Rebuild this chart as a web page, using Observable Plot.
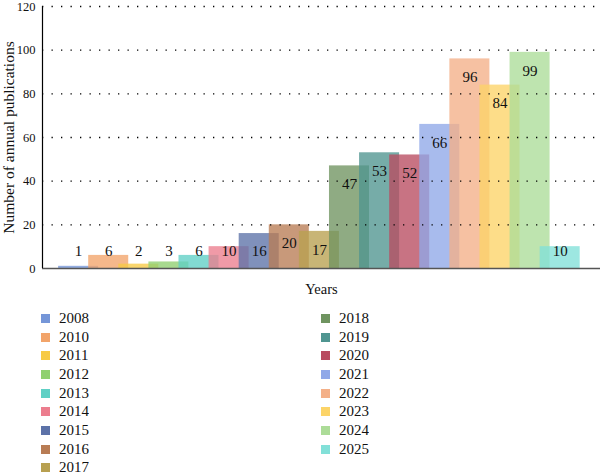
<!DOCTYPE html>
<html>
<head>
<meta charset="utf-8">
<script src="https://cdn.jsdelivr.net/npm/d3@7"></script>
<script src="https://cdn.jsdelivr.net/npm/@observablehq/plot@0.6"></script>
<style>
  body { margin: 0; background: #fff; font-family: "Liberation Serif", serif; }
  #chart { width: 600px; }
  #chart svg, #chart svg text { font-family: "Liberation Serif", serif !important; }
  #chart g[aria-label="y-axis label"] text { font-size: 15.5px; }
  .lg-swatches {
    font-family: "Liberation Serif", serif;
    font-size: 15px;
    color: #111;
    margin: 9px 0 0 41px;
    width: 559px;
    column-gap: 1px;
  }
  .lg-swatch { height: 18.7px; padding-bottom: 0; }
  .lg-swatch > svg { margin-right: 9px; }
</style>
</head>
<body>
<div id="chart"></div>
<script>
// Publications per year
const years = ["2008", "2010", "2011", "2012", "2013", "2014", "2015", "2016", "2017",
               "2018", "2019", "2020", "2021", "2022", "2023", "2024", "2025"];
const counts = [1, 6, 2, 3, 6, 10, 16, 20, 17, 47, 53, 52, 66, 96, 84, 99, 10];
const colors = ["#7596d8", "#f2a46a", "#f7ca45", "#90d070", "#5fd0c5", "#ec7d8e",
                "#5c72a8", "#b87c54", "#b8a050", "#6f9460", "#4f9590", "#b84c60",
                "#90a8e8", "#f4b088", "#fcd468", "#acdc98", "#82e0d8"];
const yTicks = [0, 20, 40, 60, 80, 100, 120];
const gridLines = [20, 40, 60, 80, 100, 120];

const data = years.map((year, i) => ({year, i, count: counts[i]}));

// bars are wider than their spacing, so neighbours overlap
const halfWidth = 0.665;
const xDomain = [-1.2, 17.34];

const chart = Plot.plot({
  width: 600,
  height: 300,
  marginLeft: 42,
  marginRight: 0,
  marginTop: 6,
  marginBottom: 32,
  style: {background: "#fff", color: "#111"},
  x: {domain: xDomain, axis: null},
  y: {domain: [0, 120]},
  color: {type: "ordinal", domain: years, range: colors},
  marks: [
    Plot.rectY(data, {
      x1: d => d.i - halfWidth,
      x2: d => d.i + halfWidth,
      y1: 0,
      y2: "count",
      fill: "year",
      fillOpacity: 0.78
    }),
    Plot.ruleY(gridLines, {stroke: "#000", strokeDasharray: "1.3,8.2", strokeWidth: 1.3}),
    Plot.ruleY([0], {stroke: "#555", strokeWidth: 1.5}),
    Plot.ruleX([xDomain[0]], {y1: 0, y2: 120, stroke: "#000", strokeWidth: 1.2}),
    Plot.axisY({
      ticks: yTicks,
      tickSize: 0,
      tickPadding: 7,
      fontSize: 12.5,
      label: "Number of annual publications",
      labelAnchor: "center",
      labelOffset: 40,
      labelArrow: "none"
    }),
    Plot.text(data, {
      x: "i",
      y: d => Math.max(d.count - 8.5, 8),
      text: d => String(d.count),
      fontSize: 15,
      fill: "#111"
    }),
    Plot.text(["Years"], {frameAnchor: "bottom", dy: 25, fontSize: 14.5, fill: "#111"})
  ]
});

document.getElementById("chart").append(chart);
document.getElementById("chart").append(
  chart.legend("color", {columns: 2, swatchSize: 9, className: "lg"})
);
</script>
</body>
</html>
